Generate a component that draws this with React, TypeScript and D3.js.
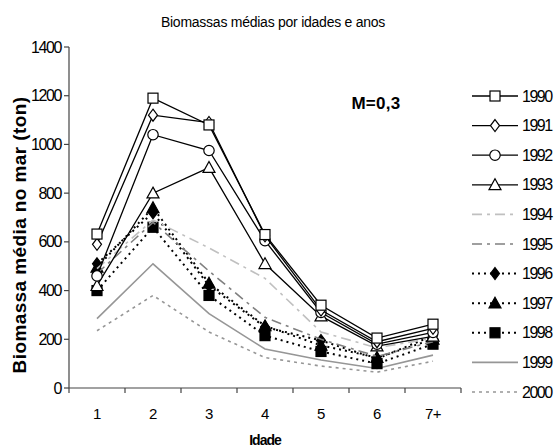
import React from "react";
import * as d3 from "d3";

const ages = ["1", "2", "3", "4", "5", "6", "7+"];
const yTicks = [0, 200, 400, 600, 800, 1000, 1200, 1400];

const years = ["1990", "1991", "1992", "1993", "1994", "1995", "1996", "1997", "1998", "1999", "2000"];

const s1990 = [632, 1190, 1080, 630, 340, 205, 262];
const s1991 = [590, 1120, 1090, 625, 320, 190, 245];
const s1992 = [460, 1040, 975, 605, 310, 180, 228];
const s1993 = [420, 800, 905, 510, 295, 172, 212];
const s1994 = [490, 690, 575, 450, 230, 165, 205];
const s1995 = [470, 680, 480, 290, 200, 130, 190];
const s1996 = [510, 720, 420, 250, 195, 120, 215];
const s1997 = [495, 740, 430, 255, 175, 125, 200];
const s1998 = [400, 660, 380, 215, 150, 100, 180];
const s1999 = [285, 510, 305, 160, 115, 80, 135];
const s2000 = [235, 380, 230, 125, 90, 65, 110];

const seriesValues = [s1990, s1991, s1992, s1993, s1994, s1995, s1996, s1997, s1998, s1999, s2000];

type Style = { color: string; width: number; dash?: string; marker?: string; filled?: boolean };
const styles: Style[] = [
  { color: "#000", width: 1.3, marker: "square", filled: false },
  { color: "#000", width: 1.3, marker: "diamond", filled: false },
  { color: "#000", width: 1.3, marker: "circle", filled: false },
  { color: "#000", width: 1.3, marker: "triangle", filled: false },
  { color: "#c0c0c0", width: 1.6, dash: "10,5,3,5" },
  { color: "#808080", width: 1.6, dash: "10,5,3,5" },
  { color: "#000", width: 2, dash: "2,4", marker: "diamond", filled: true },
  { color: "#000", width: 2, dash: "2,4", marker: "triangle", filled: true },
  { color: "#000", width: 2, dash: "2,4", marker: "square", filled: true },
  { color: "#969696", width: 1.6 },
  { color: "#969696", width: 1.6, dash: "3,4" },
];

const W = 558;
const H = 448;
const x0 = 69, x1 = 461, yTop = 47, yBot = 388;

function Marker({ kind, cx, cy, filled }: { kind: string; cx: number; cy: number; filled: boolean }) {
  const fill = filled ? "#000" : "#fff";
  const common = { fill, stroke: "#000", strokeWidth: 1.2 };
  if (kind === "square") {
    const s = 10;
    return <rect x={cx - s / 2} y={cy - s / 2} width={s} height={s} {...common} />;
  }
  if (kind === "circle") return <circle cx={cx} cy={cy} r={5.2} {...common} />;
  if (kind === "diamond") {
    const r = 6;
    return <path d={`M${cx},${cy - r}L${cx + r * 0.75},${cy}L${cx},${cy + r}L${cx - r * 0.75},${cy}Z`} {...common} />;
  }
  const r = 6;
  return <path d={`M${cx},${cy - r}L${cx + r},${cy + r * 0.8}L${cx - r},${cy + r * 0.8}Z`} {...common} />;
}

export default function App() {
  const x = d3.scalePoint<string>().domain(ages).range([x0, x1]).padding(0.5);
  const y = d3.scaleLinear().domain([0, 1400]).range([yBot, yTop]);
  const line = d3
    .line<number>()
    .x((_, i) => x(ages[i]) as number)
    .y((d) => y(d));
  const step = x.step();
  const tickXs = d3.range(ages.length + 1).map((i) => x0 + i * step);
  const font = "Arial, 'Liberation Sans', sans-serif";

  const legX = 472, legY0 = 96, legDy = 29.6;

  return (
    <svg width={W} height={H} style={{ position: "absolute", left: 0, top: 0, background: "#fff" }} fontFamily={font}>
      <text x={273} y={27} textAnchor="middle" fontSize={14} letterSpacing={-0.25}>
        Biomassas médias  por idades e anos
      </text>
      {/* axes */}
      <line x1={x0} x2={x0} y1={yTop} y2={yBot} stroke="#444" strokeWidth={1.2} />
      <line x1={x0} x2={x1} y1={yBot} y2={yBot} stroke="#444" strokeWidth={1.2} />
      {yTicks.map((t) => (
        <g key={t}>
          <line x1={x0 - 5} x2={x0} y1={y(t)} y2={y(t)} stroke="#444" strokeWidth={1.2} />
          <text x={61} y={y(t) + 5.5} textAnchor="end" fontSize={16} letterSpacing={-1.4}>
            {t}
          </text>
        </g>
      ))}
      {tickXs.map((tx, i) => (
        <line key={i} x1={tx} x2={tx} y1={yBot} y2={yBot + 5} stroke="#444" strokeWidth={1.2} />
      ))}
      {ages.map((a) => (
        <text key={a} x={x(a) as number} y={419} textAnchor="middle" fontSize={15} letterSpacing={-0.5}>
          {a}
        </text>
      ))}
      <text x={265} y={445} textAnchor="middle" fontSize={14} fontWeight="bold" letterSpacing={-1}>
        Idade
      </text>
      <text
        transform={`translate(26,235) rotate(-90)`}
        textAnchor="middle"
        fontSize={19}
        fontWeight="bold"
        letterSpacing={0.4}
      >
        Biomassa média no mar (ton)
      </text>
      <text x={376} y={109} textAnchor="middle" fontSize={17} fontWeight="bold" letterSpacing={0.3}>
        M=0,3
      </text>
      {/* series (draw later years first) */}
      {seriesValues
        .map((vals, i) => ({ vals, i }))
        .reverse()
        .map(({ vals, i }) => {
          const st = styles[i];
          return (
            <g key={years[i]}>
              <path d={line(vals) || ""} fill="none" stroke={st.color} strokeWidth={st.width} strokeDasharray={st.dash} />
              {st.marker &&
                vals.map((v, j) => (
                  <Marker key={j} kind={st.marker!} cx={x(ages[j]) as number} cy={y(v)} filled={!!st.filled} />
                ))}
            </g>
          );
        })}
      {/* legend */}
      {years.map((yr, i) => {
        const st = styles[i];
        const ly = legY0 + i * legDy;
        return (
          <g key={yr}>
            <line x1={legX} x2={legX + 46} y1={ly} y2={ly} stroke={st.color} strokeWidth={st.width} strokeDasharray={st.dash} />
            {st.marker && <Marker kind={st.marker} cx={legX + 23} cy={ly} filled={!!st.filled} />}
            <text x={522} y={ly + 5.5} fontSize={16} letterSpacing={-1.5}>
              {yr}
            </text>
          </g>
        );
      })}
    </svg>
  );
}
